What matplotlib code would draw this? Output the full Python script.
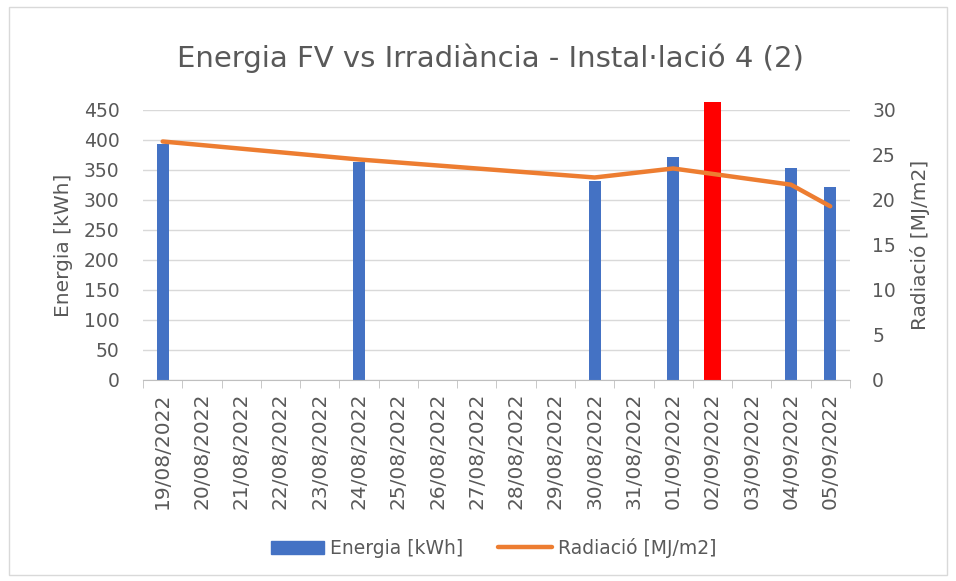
import numpy as np
import matplotlib.pyplot as plt
from matplotlib.patches import Rectangle
from matplotlib.lines import Line2D

plt.rcParams['font.family'] = ['DejaVu Sans']

# daily category axis, 19/08/2022 .. 05/09/2022
dates = ['19/08/2022', '20/08/2022', '21/08/2022', '22/08/2022', '23/08/2022',
         '24/08/2022', '25/08/2022', '26/08/2022', '27/08/2022', '28/08/2022',
         '29/08/2022', '30/08/2022', '31/08/2022', '01/09/2022', '02/09/2022',
         '03/09/2022', '04/09/2022', '05/09/2022']
meas_idx = [0, 5, 11, 13, 14, 16, 17]
energia = [394, 364, 331, 372, 464, 354, 321]
radiacio = [26.5, 24.5, 22.5, 23.5, 22.9, 21.7, 19.3]
outlier = 14  # 02/09/2022 highlighted

grey = '#595959'
blue = '#4472C4'
orange = '#ED7D31'

fig = plt.figure(figsize=(9.56, 5.81), dpi=100)
fig.patches.append(Rectangle((0.009, 0.01), 0.982, 0.978, transform=fig.transFigure,
                             fill=False, ec='#d9d9d9', lw=1))

ax = fig.add_axes([0.1496, 0.346, 0.7394, 0.4647])
ax2 = ax.twinx()
ax.set_zorder(ax2.get_zorder() - 1)
ax.patch.set_visible(True)
ax2.patch.set_visible(False)

for i, v in zip(meas_idx, energia):
    if i == outlier:
        ax.bar(i, v, width=0.42, color='#FF0000', zorder=3, clip_on=False)
    else:
        ax.bar(i, v, width=0.3, color=blue, zorder=3)

ax2.plot(meas_idx, radiacio, color=orange, lw=3.2, solid_capstyle='round',
         solid_joinstyle='round', zorder=4)

ax.set_xlim(-0.5, len(dates) - 0.5)
ax.set_ylim(0, 450)
ax2.set_ylim(0, 30)
ax.set_yticks(np.arange(0, 451, 50))
ax2.set_yticks(np.arange(0, 31, 5))
ax.grid(axis='y', color='#d9d9d9', lw=1, zorder=0)

ax.set_xticks(range(len(dates)))
ax.set_xticklabels(dates, rotation=90, fontsize=14.5, color=grey)
ax.set_xticks(np.arange(-0.5, len(dates), 1), minor=True)
ax.tick_params(axis='x', which='major', length=0, pad=9)
ax.tick_params(axis='x', which='minor', length=6, color='#bfbfbf', direction='out')

for a in (ax, ax2):
    for s in a.spines.values():
        s.set_visible(False)
    a.tick_params(axis='y', length=0, labelsize=13.5, labelcolor=grey)
ax.tick_params(axis='y', pad=17)
ax2.tick_params(axis='y', pad=16)
ax2.spines['bottom'].set_visible(True)
ax2.spines['bottom'].set_color('#bfbfbf')

ax.set_ylabel('Energia [kWh]', fontsize=14.5, color=grey, labelpad=8)
ax2.set_ylabel('Radiació [MJ/m2]', fontsize=14.5, color=grey, labelpad=10)

fig.text(0.513, 0.9, 'Energia FV vs Irradiància - Instal·lació 4 (2)',
         ha='center', va='center', fontsize=21, color=grey)

handles = [Rectangle((0, 0), 1, 1, color=blue),
           Line2D([], [], color=orange, lw=3.2, solid_capstyle='round')]
fig.legend(handles, ['Energia [kWh]', 'Radiació [MJ/m2]'], loc='center',
           bbox_to_anchor=(0.516, 0.057), ncol=2, frameon=False, fontsize=13.5,
           labelcolor=grey, handlelength=2.85, handletextpad=0.3,
           columnspacing=1.9)

fig.savefig('out.png', dpi=100)
